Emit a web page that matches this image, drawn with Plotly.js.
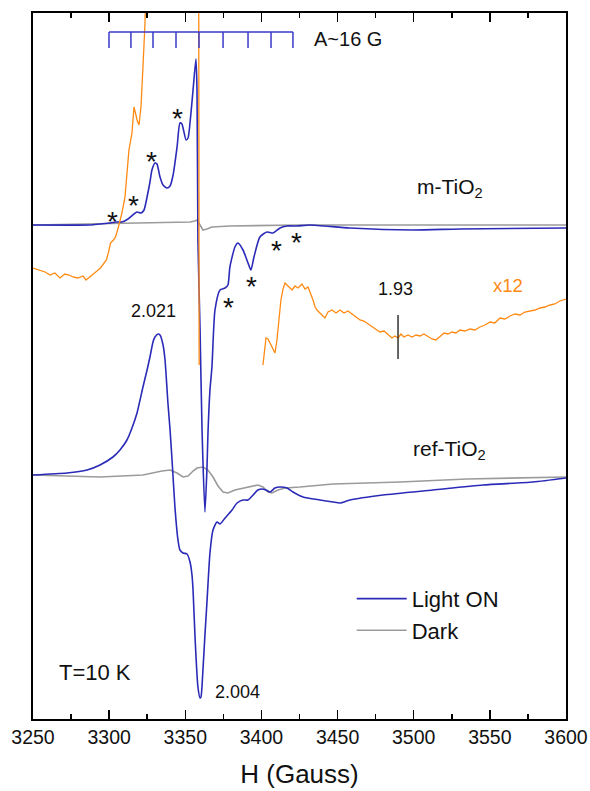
<!DOCTYPE html>
<html><head><meta charset="utf-8">
<script src="https://cdn.plot.ly/plotly-3.0.1.min.js"></script>
<style>html,body{margin:0;padding:0;background:#fff;}#chart{width:590px;height:791px;}</style>
</head><body><div id="chart"></div>
<script>
// ---- m-TiO2, light ON (field in G, intensity in arb. units incl. vertical offset)
const mLightField = [3250,3287.4,3294,3300.6,3304.5,3308.4,3312.4,3316.3,3318.3,3320.9,3322.9,3324.9,3326.8,3328.1,3330.1,3331.4,3333.4,3335.4,3338.0,3340.0,3342.0,3344.6,3346.5,3347.8,3350.5,3351.8,3353.1,3355.1,3357.0,3357.7,3358.3,3359.7,3361.0,3362.9,3364.2,3364.9,3366.2,3367.5,3369.5,3372.8,3376.1,3378.0,3379.3,3382.6,3384.6,3387.9,3391.2,3393.1,3395.1,3399.0,3403.6,3407.6,3412.2,3416.8,3423.3,3431.9,3458.1,3499.5,3530.4,3600];
const mLightInt   = [494,494,495,496,497,497,500,505,507,506,509,522,537,549,556,555,542,534,531,533,544,572,596,595,579,581,596,629,660,629,479,389,289,207,249,286,329,352,409,429,431,434,452,472,476,469,456,449,462,482,487,486,491,493,493,494,491,489,490,491];
// ---- m-TiO2, dark
const mDarkField = [3250,3294,3326.8,3353.1,3356.4,3357.7,3359.7,3361.6,3364.2,3367.5,3379.3,3425.3,3491,3600];
const mDarkInt   = [494,495,496,497,498,499,494,489,490,492,493,494,494,494];
// ---- m-TiO2 light ON x12 (off-scale parts left out)
const x12Field = [3250,3254.6,3257.9,3261.2,3264.4,3267.7,3271,3273.6,3276.3,3279.5,3282.9,3284.8,3287.4,3289.3,3292,3294.3,3296.3,3298.2,3299.6,3300.9,3302.8,3304.2,3306.1,3308.4,3310.4,3311.7,3313.0,3315.0,3316.3,3317.6,3318.3,3319.6,3320.9,3322.2,3323.5,3324.6,
  null,3358.8,3359.1,null,
  3401.0,3402.3,3403.0,3404.3,3405.6,3406.9,3408.9,3410.2,3411.5,3412.8,3414.2,3415.5,3416.8,3418.7,3420.1,3422.0,3424.0,3426.6,3428.6,3430.6,3431.9,3433.9,3435.2,3436.5,3438.4,3440.4,3441.7,3443.7,3446.3,3449.0,3451.6,3454.2,3456.8,3459.5,3462.1,3464.7,3467.3,3470.0,3472.6,3475.2,3477.8,3480.5,3483.1,3485.7,3487.7,3489.7,3491.6,3493.6,3496.2,3498.9,3501.5,3504.1,3506.7,3509.4,3512.0,3514.6,3517.2,3519.9,3522.5,3525.1,3527.7,3530.4,3533.6,3536.9,3540.2,3543.5,3546.8,3550.1,3553.3,3556.6,3559.9,3563.2,3566.5,3569.8,3573.0,3576.3,3579.6,3582.9,3586.2,3589.5,3592.7,3596.0,3600];
const x12Int = [451,449,447,444,446,441,445,444,442,441,443,439,442,444,448,451,455,459,467,476,479,482,492,506,522,544,569,586,612,604,599,594,612,652,694,760,
  null,760,354,null,
  354,374,381,380,376,372,366,379,402,419,430,436,434,431,429,433,431,435,430,432,427,419,412,409,406,403,401,407,409,406,409,406,408,405,402,399,398,395,392,390,387,388,384,381,383,381,385,382,384,382,384,383,385,382,380,379,382,386,385,387,386,389,388,390,389,392,394,397,396,401,400,403,405,404,407,408,409,411,412,414,415,418,420];
// ---- ref-TiO2, light ON
const rLightField = [3250,3272.3,3285.5,3294,3302.5,3307.1,3311.7,3315,3318.3,3322.2,3324.9,3326.8,3328.8,3330.1,3332.1,3333.4,3335.4,3336.7,3338.6,3340,3341.3,3343.2,3345.2,3346.5,3348.5,3351.1,3353.1,3354.4,3355.1,3356.4,3358.3,3359.7,3360.3,3361.6,3362.9,3364.2,3366.2,3368.2,3370.8,3372.8,3376.1,3380.7,3384.0,3387.9,3391.2,3394.5,3397.7,3400.4,3403,3405.6,3408.9,3412.2,3416.8,3420.7,3427.3,3438.4,3447,3451.6,3458.1,3479.8,3512.6,3545.5,3578.3,3600];
const rLightInt   = [244,246,249,254,262,269,279,291,306,332,349,362,377,382,385,384,374,359,316,289,259,212,179,169,166,165,157,144,129,82,32,21,22,49,84,116,166,189,197,195,201,209,216,219,219,224,229,230,229,227,231,232,231,227,222,219,217,216,219,224,229,234,237,241];
// ---- ref-TiO2, dark
const rDarkField = [3250,3294,3322.2,3331.4,3334.7,3340,3344.6,3348.5,3351.8,3355.1,3357.7,3361.6,3364.9,3368.2,3371.5,3374.8,3378,3382.6,3390.5,3397.7,3401,3404.3,3406.9,3410.9,3415.5,3425.3,3447,3491,3535,3600];
const rDarkInt   = [244,242,244,247,248,249,246,242,243,248,251,252,249,242,233,227,226,229,232,234,232,227,226,229,231,232,235,237,240,242];
// ---- hyperfine stick diagram (A ~ 16 G) and marker positions
const stickField = [3299.9,3314.3,3328.8,3343.9,3359.0,3374.8,3391.2,3406.3,3420.7];
const stickLevels = [687,671];
const g193Field = 3489.7, g193Levels = [404,360];
const starField = [3301.9,3315.7,3328.1,3345.2,3378.7,3393.8,3409.6,3422.7];
const starInt   = [506,522,566,609,420,441,477,485];
const xTicks = [3250,3300,3350,3400,3450,3500,3550,3600];

const BLUE = '#2b2bb8', GRAY = '#9b9b9b', ORANGE = '#ff8a12';
const F = 'Liberation Sans, Arial, sans-serif';

const sx = [], sy = [];
sx.push(stickField[0], stickField[stickField.length-1], null);
sy.push(stickLevels[0], stickLevels[0], null);
stickField.forEach(f => { sx.push(f, f, null); sy.push(stickLevels[0], stickLevels[1], null); });

const traces = [
  {x: mDarkField, y: mDarkInt, mode:'lines', line:{color:GRAY,width:1.6}, name:'Dark', legendgroup:'d', showlegend:true, legendrank:2},
  {x: rDarkField, y: rDarkInt, mode:'lines', line:{color:GRAY,width:1.6}, name:'Dark', legendgroup:'d', showlegend:false},
  {x: mLightField, y: mLightInt, mode:'lines', line:{color:BLUE,width:1.6,shape:'spline',smoothing:0.6}, name:'Light ON', legendgroup:'l', showlegend:true, legendrank:1},
  {x: rLightField, y: rLightInt, mode:'lines', line:{color:BLUE,width:1.6,shape:'spline',smoothing:0.6}, name:'Light ON', legendgroup:'l', showlegend:false},
  {x: x12Field, y: x12Int, mode:'lines', line:{color:ORANGE,width:1.3}, connectgaps:false, showlegend:false, name:'x12'},
  {x: sx, y: sy, mode:'lines', line:{color:'#3a3ac8',width:1.5}, connectgaps:false, showlegend:false, hoverinfo:'skip'},
  {x: [g193Field,g193Field], y: g193Levels, mode:'lines', line:{color:'#333',width:1.5}, showlegend:false, hoverinfo:'skip'}
];

const ann = [];
const txt = (x,y,t,size,color,xanchor) => ann.push({x:x,y:y,xref:'x',yref:'y',text:t,showarrow:false,font:{family:F,size:size,color:color||'#111'},xanchor:xanchor||'center',yanchor:'middle'});
txt(3433.2,680,'A~16 G',20,'#111','left');
txt(3523.5,531,'m-TiO<sub>2</sub>',21);
txt(3523.8,269,'ref-TiO<sub>2</sub>',21);
txt(3329.4,408,'2.021',18);
txt(3384,27,'2.004',18);
txt(3488,430,'1.93',18);
txt(3561.9,434,'x12',18.5,ORANGE);
txt(3290.7,47,'T=10 K',22);
starField.forEach((f,i)=>ann.push({x:f,y:starInt[i],xref:'x',yref:'y',text:'*',showarrow:false,font:{family:F,size:28,color:'#111'},xanchor:'center',yanchor:'middle',yshift:-8}));

const layout = {
  width:590, height:791,
  margin:{l:33,r:24,t:13,b:72},
  paper_bgcolor:'#fff', plot_bgcolor:'#fff',
  showlegend:true,
  legend:{x:0.598,y:0.200,xanchor:'left',yanchor:'top',font:{family:F,size:22,color:'#111'},bgcolor:'rgba(0,0,0,0)',itemwidth:50,tracegroupgap:0},
  xaxis:{range:[3250,3600],tickvals:xTicks,ticks:'inside',ticklen:9,tickwidth:1.5,tickcolor:'#000',
    minor:{dtick:25,tick0:3250,ticks:'inside',ticklen:5,tickwidth:1.5,tickcolor:'#000'},
    showline:true,linewidth:2,linecolor:'#000',mirror:'ticks',showgrid:false,zeroline:false,
    tickfont:{family:F,size:19.5,color:'#111'},
    title:{text:'H (Gauss)',font:{family:F,size:26,color:'#111'},standoff:17}},
  yaxis:{range:[0,706],showticklabels:false,ticks:'',showline:true,linewidth:2,linecolor:'#000',mirror:true,showgrid:false,zeroline:false},
  annotations:ann
};
Plotly.newPlot('chart',traces,layout,{staticPlot:true});
</script></body></html>
